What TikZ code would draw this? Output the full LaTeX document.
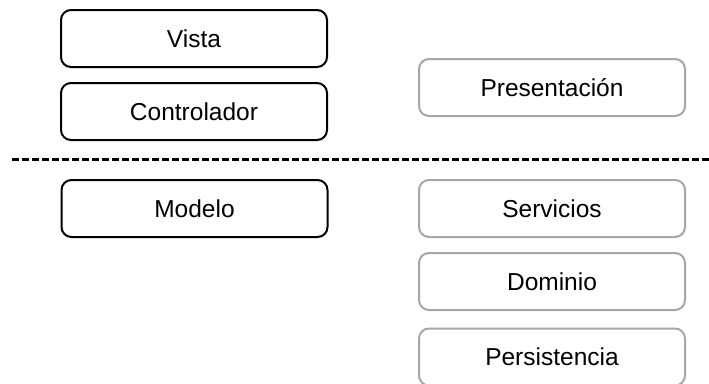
\documentclass[tikz,border=0pt]{standalone}
\usepackage{fontspec}
\setmainfont{Liberation Sans}
\begin{document}
\begin{tikzpicture}[x=1pt,y=-1pt,
  layer/.style={draw=black, line width=2pt, rounded corners=10pt, fill=white,
    minimum width=266pt, minimum height=57pt, inner sep=0pt,
    font=\fontsize{24.5}{29}\selectfont},
  tier/.style={layer, draw=black!35},
  divider/.style={line width=2.2pt, dash pattern=on 7pt off 3pt}]
  \useasboundingbox (0,0) rectangle (709,383);
  % MVC components
  \node[layer] (vista) at (194,38.5) {Vista};
  \node[layer] (ctrl) at (194,111.5) {Controlador};
  \node[layer] (modelo) at (194.5,208.5) {Modelo};
  % layered architecture
  \node[tier] (pres) at (552,87.5) {Presentación};
  \node[tier] (serv) at (552,208.5) {Servicios};
  \node[tier] (dom) at (552,281.5) {Dominio};
  \node[tier] (pers) at (552,357) {Persistencia};
  % separator
  \coordinate (sepL) at (12,159.5);
  \coordinate (sepR) at (709,159.5);
  \draw[divider] (sepL) -- (sepR);
\end{tikzpicture}
\end{document}
